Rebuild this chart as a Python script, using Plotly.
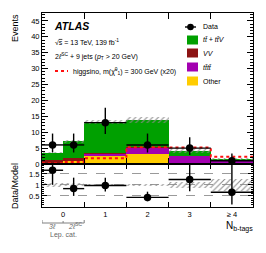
import plotly.graph_objects as go
import numpy as np

# ---------------- data ----------------
x_centers = [-0.25, 0.25, 1, 2, 3, 4]
x_widths = [0.5, 0.5, 1, 1, 1, 1]
tick_vals = [0, 1, 2, 3, 4]
tick_text = ['0', '1', '2', '3', '≥ 4']

other = [0.0, 1.0, 2.7, 3.1, 0.2, 0.0]
tttt = [0.0, 0.1, 0.6, 2.0, 2.4, 1.05]
vv = [1.2, 0.9, 0.1, 0.1, 0.0, 0.0]
ttv = [2.4, 5.2, 9.9, 8.6, 1.4, 0.45]
model_err = [0.29, 0.5, 0.67, 0.83, 0.6, 0.4]
data = [6, 6, 13, 6, 5, 1]
data_err_lo = [2.38, 2.38, 3.58, 2.38, 2.16, 0.83]
data_err_hi = [3.58, 3.58, 4.71, 3.58, 3.38, 2.30]
signal_x20 = [0.2, 0.6, 1.8, 5.3, 5.2, 2.3]

# ---------------- geometry helpers ----------------
OFF = 8  # default page body margin
W, H = 250, 237
PW, PH = 211, 194
L, T = 42 - OFF, 13 - OFF
R, B = W - L - PW, H - T - PH
RATIO_FRAC = 43 / PH


def px(p):
    return (p - OFF - L) / PW


def py(q):
    return (H - B - (q - OFF)) / PH


FONT = "Liberation Sans, Arial, Helvetica, sans-serif"
C_OTHER = '#ffcc00'
C_TTTT = '#a300b0'
C_VV = '#8c1414'
C_TTV = '#00a000'
HATCH = dict(shape='/', fgcolor='#8a8a8a', bgcolor='rgba(0,0,0,0)', size=4,
             solidity=0.25, fillmode='replace')
TXT = 7

xc = np.array(x_centers, float)
xw = np.array(x_widths, float)
comps = [(other, C_OTHER), (tttt, C_TTTT), (vv, C_VV), (ttv, C_TTV)]
total = np.sum([np.array(c, float) for c, _ in comps], axis=0)
merr = np.array(model_err, float)
d = np.array(data, float)

fig = go.Figure()

# stacked histogram
base = np.zeros(len(xc))
for vals, col in comps:
    v = np.array(vals, float)
    fig.add_trace(go.Bar(x=xc, y=v, base=base, width=xw, marker=dict(color=col, line_width=0),
                         xaxis='x', yaxis='y', showlegend=False, hoverinfo='skip'))
    base = base + v

# model uncertainty (main)
fig.add_trace(go.Bar(x=xc, y=2 * merr, base=total - merr, width=xw,
                     marker=dict(color='rgba(0,0,0,0)', line_width=0, pattern=HATCH),
                     xaxis='x', yaxis='y', showlegend=False, hoverinfo='skip'))

# signal (step line)
edges = list(xc - xw / 2) + [xc[-1] + xw[-1] / 2]
sig = list(signal_x20) + [signal_x20[-1]]
fig.add_trace(go.Scatter(x=edges, y=sig, mode='lines', line=dict(color='#ff1010', width=2, dash='dot', shape='hv'),
                         xaxis='x', yaxis='y', showlegend=False, hoverinfo='skip'))

# data
fig.add_trace(go.Scatter(x=xc, y=d, mode='markers', marker=dict(color='black', size=7.5),
                         error_y=dict(type='data', symmetric=False, array=data_err_hi, arrayminus=data_err_lo,
                                      color='black', thickness=1.4, width=0),
                         error_x=dict(type='data', array=xw / 2, color='black', thickness=1.4, width=0),
                         xaxis='x', yaxis='y', showlegend=False, hoverinfo='skip'))

# ratio band
rel = merr / total
fig.add_trace(go.Bar(x=xc, y=2 * rel, base=1 - rel, width=xw,
                     marker=dict(color='rgba(0,0,0,0)', line_width=0, pattern=HATCH),
                     xaxis='x2', yaxis='y2', showlegend=False, hoverinfo='skip'))
ratio = d / total
fig.add_trace(go.Scatter(x=xc, y=ratio, mode='markers', marker=dict(color='black', size=7.5),
                         error_y=dict(type='data', symmetric=False, array=np.array(data_err_hi) / total,
                                      arrayminus=np.array(data_err_lo) / total,
                                      color='black', thickness=1.4, width=0),
                         error_x=dict(type='data', array=xw / 2, color='black', thickness=1.4, width=0),
                         xaxis='x2', yaxis='y2', showlegend=False, hoverinfo='skip'))

x_range = [edges[0], edges[-1]]
axis_common = dict(showline=True, linecolor='black', linewidth=1, mirror='allticks',
                   ticks='inside', tickcolor='black', zeroline=False, automargin=False,
                   tickfont=dict(family=FONT, size=7.5, color='black'))

fig.update_layout(
    width=W, height=H, margin=dict(l=L, r=R, t=T, b=B, autoexpand=False),
    paper_bgcolor='white', plot_bgcolor='white',
    barmode='overlay', bargap=0,
    font=dict(family=FONT, size=TXT, color='black'),
    xaxis=dict(axis_common, domain=[0, 1], anchor='y', range=x_range, showticklabels=False,
               tickvals=tick_vals, ticklen=0, showgrid=False,
               minor=dict(tickvals=[0.5, 1.5, 2.5, 3.5], ticks='inside', ticklen=6, tickcolor='black')),
    yaxis=dict(axis_common, domain=[RATIO_FRAC, 1], anchor='x', range=[0, 47.5],
               tickvals=list(range(0, 50, 5)), ticklen=6, showgrid=False,
               minor=dict(dtick=1, ticks='inside', ticklen=3, tickcolor='black')),
    xaxis2=dict(axis_common, domain=[0, 1], anchor='y2', range=x_range, matches='x',
                tickvals=tick_vals, ticktext=tick_text, ticklen=0, showgrid=False,
                minor=dict(tickvals=[0.5, 1.5, 2.5, 3.5], ticks='inside', ticklen=5, tickcolor='black')),
    yaxis2=dict(axis_common, domain=[0, RATIO_FRAC], anchor='x2', range=[0, 1.95],
                tickvals=[0.5, 1, 1.5], ticktext=['0.5', '1', '1.5'], ticklen=5,
                showgrid=True, gridcolor='#9a9a9a', griddash='dash', gridwidth=1,
                minor=dict(dtick=0.1, ticks='inside', ticklen=2, tickcolor='black')),
)

ann = []
shapes = []


def text(x, y, s, size=TXT, xanchor='left', color='black', angle=0, yanchor='middle'):
    ann.append(dict(x=px(x), y=py(y), xref='paper', yref='paper', text=s,
                    showarrow=False, xanchor=xanchor, yanchor=yanchor, textangle=angle,
                    font=dict(family=FONT, size=size, color=color)))


# axis titles
text(15, 12, 'Events', size=9, xanchor='center', angle=-90, yanchor='top')
text(15, 186, 'Data/Model', size=9, xanchor='center', angle=-90)
text(255, 226, 'N<sub>b-tags</sub>', size=10, xanchor='right')

# ATLAS labels
text(52, 26, '<b><i>ATLAS</i></b>', size=10.5)
text(53, 42, '√<span style="text-decoration:overline">s</span> = 13 TeV, 139 fb<sup>-1</sup>', size=TXT)
text(53, 57, '2<i>ℓ</i><sup>SC</sup> + 9 jets (<i>p</i><sub>T</sub> > 20 GeV)', size=TXT)
text(71, 71, 'higgsino, m(χ̃<sup>0</sup><sub>1</sub>) = 300 GeV (x20)', size=TXT)
shapes.append(dict(type='line', xref='paper', yref='paper', x0=px(55), x1=px(68), y0=py(71), y1=py(71),
                   line=dict(color='#ff1010', width=2, dash='dot')))

# legend
shapes.append(dict(type='line', xref='paper', yref='paper', x0=px(185), x1=px(196), y0=py(27), y1=py(27),
                   line=dict(color='black', width=1.4)))
shapes.append(dict(type='circle', xref='paper', yref='paper', x0=px(187.2), x1=px(193.8), y0=py(30.3), y1=py(23.7),
                   fillcolor='black', line=dict(color='black', width=0)))
text(201, 27, 'Data')
leg = [(C_TTV, '<i>tt̄ + tt̄V</i>', 40), (C_VV, '<i>VV</i>', 53), (C_TTTT, '<i>tt̄tt̄</i>', 67), (C_OTHER, 'Other', 81)]
for col, lab, yy in leg:
    shapes.append(dict(type='rect', xref='paper', yref='paper', x0=px(187), x1=px(198), y0=py(yy + 4.5), y1=py(yy - 4.5),
                       fillcolor=col, line=dict(width=0)))
    text(201, yy, lab)

# lepton-category bracket
lep_edges = [edges[0], edges[1], edges[2]]
GRAY = '#808080'
shapes.append(dict(type='line', xref='x2', yref='paper', x0=lep_edges[0], x1=lep_edges[2], y0=py(223), y1=py(223),
                   line=dict(color=GRAY, width=1)))
for e, ln in zip(lep_edges, [3, 2, 3]):
    shapes.append(dict(type='line', xref='x2', yref='paper', x0=e, x1=e, y0=py(223), y1=py(223 - ln),
                       line=dict(color=GRAY, width=1)))
ann.append(dict(x=x_centers[0], y=py(232), xref='x2', yref='paper', text='<i>3ℓ</i>', showarrow=False,
                font=dict(family=FONT, size=7, color='#666666')))
ann.append(dict(x=x_centers[1] + 0.03, y=py(232), xref='x2', yref='paper', text='<i>2ℓ</i><sup>SC</sup>',
                showarrow=False, font=dict(family=FONT, size=7, color='#666666')))
ann.append(dict(x=0.02, y=py(241), xref='x2', yref='paper', text='Lep. cat.', showarrow=False,
                font=dict(family=FONT, size=7, color='#666666')))

fig.update_layout(annotations=ann, shapes=shapes)
fig.write_html("out.html")
